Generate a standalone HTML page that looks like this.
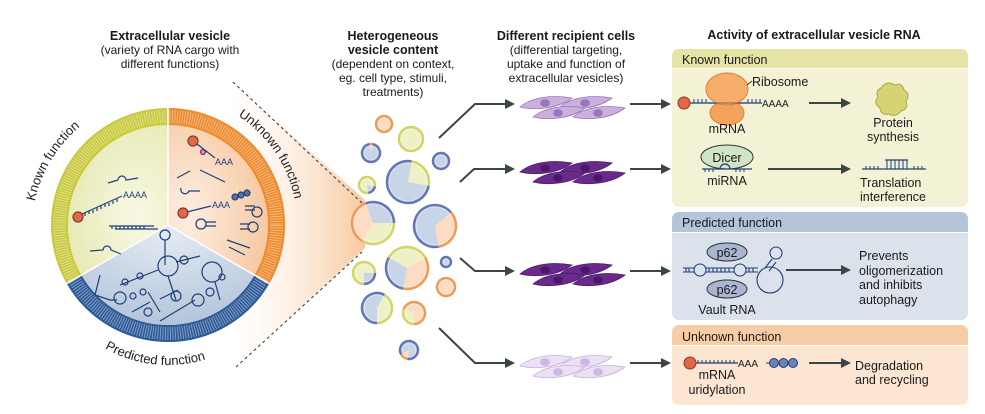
<!DOCTYPE html>
<html><head><meta charset="utf-8"><style>
html,body{margin:0;padding:0;background:#fff;}
svg{display:block;font-family:"Liberation Sans",sans-serif;}
.h{font-weight:bold;font-size:12.5px;fill:#1a1a1a;text-anchor:middle}
.s{font-size:12px;fill:#1a1a1a;text-anchor:middle}
.p{font-size:12.5px;fill:#1a1a1a}
.pc{font-size:12.5px;fill:#1a1a1a;text-anchor:middle}
.ar{stroke:#3b4446;stroke-width:2;fill:none}
.rna{stroke:#1f3f78;stroke-width:1.2;fill:none}
</style></head><body>
<svg id="s" width="985" height="414" viewBox="0 0 985 414" xmlns="http://www.w3.org/2000/svg">
<defs>
<marker id="m" viewBox="0 0 10 10" refX="8" refY="5" markerWidth="5" markerHeight="5" orient="auto"><path d="M0,0 L10,5 L0,10 z" fill="#3b4446"/></marker>
<linearGradient id="cone" x1="0" x2="1"><stop offset="0" stop-color="#fde9d8" stop-opacity="0"/><stop offset="1" stop-color="#f8c9a0"/></linearGradient>
<radialGradient id="gy" cx="0.7" cy="0.6" r="0.8"><stop offset="0" stop-color="#f8f8e4"/><stop offset="1" stop-color="#e6e8b0"/></radialGradient>
<radialGradient id="go" cx="0.2" cy="0.6" r="0.8"><stop offset="0" stop-color="#fdeee2"/><stop offset="1" stop-color="#f6c9a2"/></radialGradient>
<radialGradient id="gb" cx="0.5" cy="0.1" r="0.9"><stop offset="0" stop-color="#e3eaf3"/><stop offset="1" stop-color="#b3c4da"/></radialGradient>
</defs>

<text class="h" x="170" y="40">Extracellular vesicle</text>
<text class="s" x="170" y="54">(variety of RNA cargo with</text>
<text class="s" x="170" y="68">different functions)</text>
<text class="h" x="393" y="40">Heterogeneous</text>
<text class="h" x="393" y="54">vesicle content</text>
<text class="s" x="393" y="68">(dependent on context,</text>
<text class="s" x="393" y="82">eg. cell type, stimuli,</text>
<text class="s" x="393" y="96">treatments)</text>
<text class="h" x="566" y="40">Different recipient cells</text>
<text class="s" x="566" y="54">(differential targeting,</text>
<text class="s" x="566" y="68">uptake and function of</text>
<text class="s" x="566" y="82">extracellular vesicles)</text>
<text class="h" x="814" y="39">Activity of extracellular vesicle RNA</text>

<polygon points="233,82 365,200 365,248 236,367" fill="url(#cone)"/>
<line x1="233" y1="82" x2="362" y2="203" stroke="#333" stroke-dasharray="3,3"/>
<line x1="236" y1="367" x2="362" y2="252" stroke="#333" stroke-dasharray="3,3"/>

<g id="big">
<path d="M168,225 L168,125 A100,100 0 0 0 81.4,275 Z" fill="url(#gy)"/>
<path d="M168,225 L168,125 A100,100 0 0 1 254.6,275 Z" fill="url(#go)"/>
<path d="M168,225 L254.6,275 A100,100 0 0 1 81.4,275 Z" fill="url(#gb)"/>
<path d="M168,116.5 A108.5,108.5 0 0 0 74,279.2" stroke="#c8c93c" stroke-width="17" fill="none"/>
<path d="M168,116.5 A108.5,108.5 0 0 1 262,279.2" stroke="#ef8a2c" stroke-width="17" fill="none"/>
<path d="M262,279.2 A108.5,108.5 0 0 1 74,279.2" stroke="#2d5a98" stroke-width="17" fill="none"/>
<circle cx="168" cy="225" r="108.5" fill="none" stroke="#ffffff" stroke-opacity="0.45" stroke-width="13" stroke-dasharray="0.9,1.6"/>
<line x1="168" y1="225" x2="168" y2="108" stroke="#fff" stroke-width="1.5"/>
<line x1="168" y1="225" x2="270" y2="284" stroke="#fff" stroke-width="1.5"/>
<line x1="168" y1="225" x2="66" y2="284" stroke="#fff" stroke-width="1.5"/>
</g>
<path id="arcL" d="M45,290 A136,136 0 0 1 160,95" fill="none"/>
<path id="arcR" d="M176,95 A130,130 0 0 1 297,230" fill="none"/>
<path id="arcB" d="M80,330 A128,128 0 0 0 256,330" fill="none"/>
<text style="font-size:13px;fill:#222"><textPath href="#arcL" startOffset="34%">Known function</textPath></text>
<text style="font-size:13px;fill:#222"><textPath href="#arcR" startOffset="33%">Unknown function</textPath></text>
<text style="font-size:13px;fill:#222"><textPath href="#arcB" startOffset="16%">Predicted function</textPath></text>

<g class="rna">
<circle cx="78" cy="217" r="5" fill="#e2674b" stroke="#8a3a2a"/>
<path d="M82,214 L122,196"/><path d="M85,213 v3 M89,211 v3 M93,210 v3 M97,208 v3 M101,206 v3 M105,204 v3 M109,203 v3 M113,201 v3 M117,199 v3"/>
<text x="123" y="198" style="font-size:9px;fill:#1f3f78;stroke:none">AAAA</text>
<path d="M108,183 L118,180 M118,180 a4,4 0 0 1 8,0 L138,178"/>
<path d="M109,226 h45 M115,229 h43 M112,226 v3 M116,226 v3 M120,226 v3 M124,226 v3 M128,226 v3 M132,226 v3 M136,226 v3 M140,226 v3 M144,226 v3"/>
<path d="M90,251 L103,250 a4,4 0 0 1 8,0 L121,254"/>
</g>
<g class="rna">
<circle cx="193" cy="141" r="5" fill="#e2674b" stroke="#8a3a2a"/><circle cx="203" cy="152" r="2.5" fill="#d48bc0" stroke="#7a3a6a"/>
<path d="M197,144 L215,158"/><text x="215" y="165" style="font-size:9px;fill:#1f3f78;stroke:none">AAA</text>
<path d="M177,178 L190,171 M200,170 L225,182 M181,188 a4,4 0 0 0 8,3 L200,191"/>
<circle cx="183" cy="213" r="5" fill="#e2674b" stroke="#8a3a2a"/><path d="M187,212 L211,206"/><text x="212" y="208" style="font-size:9px;fill:#1f3f78;stroke:none">AAA</text>
<circle cx="235" cy="197" r="3" fill="#5a6fa8"/><circle cx="241" cy="195" r="3" fill="#5a6fa8"/><circle cx="247" cy="193" r="3" fill="#5a6fa8"/>
<circle cx="201" cy="224" r="5"/><path d="M206,222 h10 M206,226 h10"/>
<circle cx="257" cy="212" r="5"/><path d="M245,206 h10 M245,210 h10"/>
<circle cx="253" cy="227" r="5"/><path d="M240,224 h10 M240,229 h10"/>
<path d="M227,240 L250,248 M229,247 L245,255"/>
</g>
<g class="rna">
<circle cx="165" cy="235" r="5"/><path d="M165,240 V265"/><circle cx="168" cy="266" r="10"/>
<path d="M158,270 L120,285"/><circle cx="125" cy="282" r="3"/><circle cx="140" cy="276" r="3"/><circle cx="184" cy="260" r="4"/>
<path d="M176,262 L200,256"/><path d="M168,276 L176,300"/><circle cx="176" cy="296" r="5"/>
<circle cx="212" cy="272" r="10"/><path d="M215,282 L220,300"/><circle cx="222" cy="277" r="3"/>
<path d="M100,275 L95,295 L110,300 L117,300"/><circle cx="120" cy="298" r="6"/><circle cx="133" cy="296" r="3"/>
<path d="M148,292 L160,312"/><circle cx="143" cy="292" r="3"/><circle cx="148" cy="312" r="4"/><path d="M132,312 L150,302 M160,299 L178,290"/>
<path d="M160,321 L195,300"/><circle cx="198" cy="300" r="6"/><circle cx="210" cy="292" r="4"/>
</g>

<g id="ves"></g>

<path class="ar" marker-end="url(#m)" d="M439,138 L475,104 L513,104"/>
<path class="ar" marker-end="url(#m)" d="M460,182 L474,169 L513,169"/>
<path class="ar" marker-end="url(#m)" d="M460,258 L475,271 L513,271"/>
<path class="ar" marker-end="url(#m)" d="M439,328 L475,363 L513,363"/>
<g id="cells"></g>
<path class="ar" marker-end="url(#m)" d="M630,104 L669,104"/>
<path class="ar" marker-end="url(#m)" d="M630,169 L669,169"/>
<path class="ar" marker-end="url(#m)" d="M630,271 L669,271"/>
<path class="ar" marker-end="url(#m)" d="M630,363 L669,363"/>

<rect x="672" y="49" width="296" height="158" rx="7" fill="#f3f2d5"/>
<path d="M672,68 V56 a7,7 0 0 1 7,-7 H961 a7,7 0 0 1 7,7 V68 Z" fill="#e5e4a6"/>
<line x1="672" y1="68.5" x2="968" y2="68.5" stroke="#fff"/>
<text class="p" x="682" y="64">Known function</text>
<rect x="672" y="212" width="296" height="108" rx="7" fill="#dbe2ec"/>
<path d="M672,232 V219 a7,7 0 0 1 7,-7 H961 a7,7 0 0 1 7,7 V232 Z" fill="#b4c5da"/>
<line x1="672" y1="232.5" x2="968" y2="232.5" stroke="#fff"/>
<text class="p" x="682" y="227">Predicted function</text>
<rect x="672" y="325" width="296" height="80" rx="7" fill="#fce6d2"/>
<path d="M672,345 V332 a7,7 0 0 1 7,-7 H961 a7,7 0 0 1 7,7 V345 Z" fill="#f7cda6"/>
<line x1="672" y1="345.5" x2="968" y2="345.5" stroke="#fff"/>
<text class="p" x="682" y="341">Unknown function</text>

<path d="M690,103 H762" stroke="#1f3f78" stroke-width="1.2"/>
<path d="M694,103 v-4 M698,103 v-4 M702,103 v-4 M706,103 v-4 M748,103 v-4 M752,103 v-4 M756,103 v-4 M760,103 v-4" stroke="#1f3f78"/>
<ellipse cx="727" cy="113" rx="17" ry="12" fill="#f4a25c" stroke="#d9803a"/>
<ellipse cx="727" cy="89" rx="21" ry="16" fill="#f6ad6a" stroke="#d9803a"/>
<path d="M708,103 H746" stroke="#1f3f78" stroke-width="1.2" stroke-opacity="0.5"/>
<circle cx="684" cy="103" r="6" fill="#e2674b" stroke="#8a3a2a"/>
<path d="M747,85 L752,81" stroke="#333"/>
<text class="p" x="752" y="86">Ribosome</text>
<text x="762" y="107" style="font-size:10px;fill:#1a1a1a">AAAA</text>
<text class="pc" x="727" y="133">mRNA</text>
<path class="ar" marker-end="url(#m)" d="M809,103 L849,103"/>
<path d="M881,88 q6,-8 13,-3 q8,-3 10,5 q7,4 2,11 q3,8 -5,10 q-5,7 -12,3 q-8,2 -9,-6 q-7,-5 -2,-11 q-3,-6 3,-9z" fill="#d6d472" stroke="#a8a64a"/>
<text class="pc" x="893" y="127">Protein</text>
<text class="pc" x="893" y="141">synthesis</text>
<ellipse cx="727" cy="157" rx="26" ry="12" fill="#cfe5c8" stroke="#333"/>
<text class="pc" x="727" y="162">Dicer</text>
<path d="M702,169 H752 M720,169 a5,5 0 0 1 10,0" stroke="#1f3f78" fill="none" stroke-width="1.2"/>
<path d="M705,169 v3 M709,169 v3 M713,169 v3 M736,169 v3 M740,169 v3 M744,169 v3" stroke="#1f3f78"/>
<text class="pc" x="727" y="185">miRNA</text>
<path class="ar" marker-end="url(#m)" d="M768,169 L849,169"/>
<path d="M862,169 H926 M885,160 H908" stroke="#1f3f78" fill="none" stroke-width="1.2"/>
<path d="M866,169 v-3 M870,169 v-3 M874,169 v-3 M878,169 v-3 M887,160 v9 M891,160 v9 M895,160 v9 M899,160 v9 M903,160 v9 M907,160 v9 M914,169 v-3 M918,169 v-3 M922,169 v-3" stroke="#1f3f78"/>
<text class="p" x="860" y="187">Translation</text>
<text class="p" x="860" y="201">interference</text>

<ellipse cx="727" cy="252" rx="20" ry="9" fill="#a9b6d0" stroke="#333"/>
<text class="pc" x="727" y="257">p62</text>
<ellipse cx="727" cy="289" rx="20" ry="9" fill="#a9b6d0" stroke="#333"/>
<text class="pc" x="727" y="294">p62</text>
<g stroke="#1f3f78" fill="none" stroke-width="1.1">
<path d="M683,268 H694 M683,272 H694 M706,268 H734 M706,272 H734 M746,268 H758 M746,272 H758"/>
<path d="M686,268 v4 M689,268 v4 M709,268 v4 M713,268 v4 M717,268 v4 M721,268 v4 M725,268 v4 M729,268 v4 M749,268 v4 M753,268 v4"/>
<circle cx="700" cy="270" r="6"/><circle cx="740" cy="270" r="6"/>
<circle cx="770" cy="280" r="13"/><circle cx="776" cy="253" r="6"/><path d="M765,268 L772,259 M769,271 L776,262"/>
</g>
<text class="pc" x="727" y="314">Vault RNA</text>
<path class="ar" marker-end="url(#m)" d="M786,270 L849,270"/>
<text class="p" x="859" y="260">Prevents</text>
<text class="p" x="859" y="275">oligomerization</text>
<text class="p" x="859" y="289">and inhibits</text>
<text class="p" x="859" y="304">autophagy</text>

<path d="M690,363 H738" stroke="#1f3f78" stroke-width="1.2"/>
<path d="M698,363 v-3 M702,363 v-3 M706,363 v-3 M710,363 v-3 M714,363 v-3 M718,363 v-3 M722,363 v-3 M726,363 v-3 M730,363 v-3 M734,363 v-3" stroke="#1f3f78"/>
<circle cx="690" cy="363" r="6" fill="#e2674b" stroke="#8a3a2a"/>
<text x="738" y="367" style="font-size:10px;fill:#1a1a1a">AAA</text>
<path d="M766,363 H798" stroke="#1f3f78"/>
<circle cx="774" cy="363" r="4.5" fill="#6f80b8" stroke="#1f3f78"/><circle cx="783.5" cy="363" r="4.5" fill="#6f80b8" stroke="#1f3f78"/><circle cx="793" cy="363" r="4.5" fill="#6f80b8" stroke="#1f3f78"/>
<text class="pc" x="717" y="379">mRNA</text>
<text class="pc" x="717" y="394">uridylation</text>
<path class="ar" marker-end="url(#m)" d="M809,363 L849,363"/>
<text class="p" x="855" y="370">Degradation</text>
<text class="p" x="855" y="384">and recycling</text>
</svg>
<script>
var NS="http://www.w3.org/2000/svg";
function el(p,t,a){var e=document.createElementNS(NS,t);for(var k in a)e.setAttribute(k,a[k]);p.appendChild(e);return e;}
var C={b:["#c8d5e7","#6577b3"],y:["#eef0c6","#d2d46a"],o:["#fcdcc2","#f09a5a"]};
function pt(cx,cy,r,a){a=a*Math.PI/180;return [cx+r*Math.cos(a),cy+r*Math.sin(a)];}
function ves(cx,cy,r,segs){
 var g=document.getElementById("ves");
 segs.forEach(function(s){
  var a0=s[0],a1=s[1],c=C[s[2]];
  if(a1-a0>=360){el(g,"circle",{cx:cx,cy:cy,r:r-1,fill:c[0],stroke:c[1],"stroke-width":2.5});return;}
  var p0=pt(cx,cy,r-1,a0),p1=pt(cx,cy,r-1,a1),lg=(a1-a0)>180?1:0;
  el(g,"path",{d:"M"+cx+","+cy+" L"+p0+" A"+(r-1)+","+(r-1)+" 0 "+lg+" 1 "+p1+" Z",fill:c[0]});
  el(g,"path",{d:"M"+p0+" A"+(r-1)+","+(r-1)+" 0 "+lg+" 1 "+p1,fill:"none",stroke:c[1],"stroke-width":2.5});
 });
 el(g,"circle",{cx:cx,cy:cy,r:r-3,fill:"none",stroke:"#fff","stroke-opacity":0.6,"stroke-width":0.6});
}
ves(384,124,9,[[0,360,"o"]]);
ves(411,139,13,[[0,360,"y"]]);
ves(371,153,10,[[-80,260,"b"],[-100,-80,"o"]]);
ves(441,161,9,[[0,360,"b"]]);
ves(408,182,22,[[10,280,"b"],[-80,10,"y"]]);
ves(367,185,9,[[80,370,"y"],[10,80,"b"]]);
ves(373,223,22,[[-110,0,"b"],[0,120,"y"],[120,250,"o"]]);
ves(435,226,22,[[80,320,"b"],[-40,80,"o"]]);
ves(407,268,22,[[-150,-30,"y"],[-30,100,"o"],[100,210,"b"]]);
ves(364,273,12,[[90,360,"y"],[0,90,"b"]]);
ves(446,262,6,[[0,360,"b"]]);
ves(446,287,10,[[0,360,"o"]]);
ves(377,308,16,[[90,300,"b"],[-60,90,"y"]]);
ves(414,313,12,[[-160,90,"o"],[90,200,"y"]]);
ves(409,350,10,[[150,460,"b"],[100,150,"o"]]);
var cg=document.getElementById("cells");
var cc=[[104,"#c9b0dd","#9a78bb","#9b73bf"],[169,"#6a2a8c","#4e1a6a","#4a1866"],[271,"#6a2a8c","#4e1a6a","#4a1866"],[363,"#ebe1f3","#c6b2da","#cdb8e2"]];
cc.forEach(function(c){
 var y=c[0];[[545,y-1],[585,y-1],[558,y+9],[598,y+9]].forEach(function(p){
  var x=p[0],yy=p[1];
  el(cg,"path",{d:"M"+(x-25)+","+(yy+4)+" C"+(x-12)+","+(yy-7)+" "+(x+10)+","+(yy-8)+" "+(x+27)+","+(yy-5)+" C"+(x+14)+","+(yy+5)+" "+(x-8)+","+(yy+8)+" "+(x-25)+","+(yy+4)+" Z",fill:c[1],stroke:c[2],"stroke-width":0.8});
  el(cg,"ellipse",{cx:x,cy:yy,rx:4.5,ry:3.5,fill:c[3],stroke:c[2],"stroke-width":0.6});
 });
});
</script>
</body></html>
